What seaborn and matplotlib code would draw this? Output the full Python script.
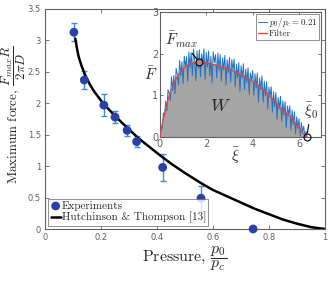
import matplotlib
matplotlib.use("Agg")
import matplotlib.pyplot as plt
import seaborn as sns
import numpy as np
import pandas as pd

# experiments (main panel)
p_exp = [0.103, 0.14, 0.21, 0.25, 0.293, 0.327, 0.42, 0.557, 0.743]
f_exp = [3.13, 2.37, 1.97, 1.78, 1.57, 1.39, 0.98, 0.49, 0.0]
f_err = [0.14, 0.15, 0.17, 0.09, 0.09, 0.09, 0.21, 0.20, 0.0]

# Hutchinson & Thompson curve
p_ht = [0.108, 0.114, 0.12, 0.13, 0.143, 0.16, 0.175, 0.207, 0.254, 0.296, 0.332,
        0.38, 0.42, 0.45, 0.5, 0.557, 0.6, 0.65, 0.7, 0.75, 0.8, 0.85, 0.9, 0.95, 1.0]
f_ht = [3.03, 2.87, 2.74, 2.6, 2.45, 2.3, 2.19, 2.0, 1.78, 1.6, 1.45,
        1.28, 1.14, 1.04, 0.89, 0.73, 0.62, 0.52, 0.42, 0.32, 0.235, 0.15, 0.085, 0.03, 0.0]

# inset: filtered force trace
xi_filt = [0.0, 0.1, 0.2, 0.3, 0.45, 0.6, 0.75, 0.9, 1.1, 1.32, 1.5, 1.7, 2.0, 2.33, 2.7,
           3.06, 3.4, 3.64, 4.0, 4.3, 4.6, 4.88, 5.2, 5.6, 5.8, 6.0, 6.2, 6.33]
f_filt = [0.0, 0.3, 0.55, 0.78, 1.09, 1.28, 1.45, 1.57, 1.69, 1.77, 1.79, 1.80, 1.78, 1.74, 1.68,
          1.62, 1.52, 1.46, 1.33, 1.22, 1.06, 0.9, 0.7, 0.5, 0.36, 0.22, 0.08, 0.0]

# inset: raw (noisy) trace, sampled every 0.05 in xi
f_raw = [0.00, 0.25, 0.20, 0.58, 0.50, 0.87, 0.63, 1.14, 1.05, 0.88,
         1.45, 1.12, 1.48, 1.04, 1.65, 1.50, 1.25, 1.84, 1.48, 1.81,
         1.28, 1.94, 1.68, 1.93, 1.33, 2.04, 1.66, 2.02, 1.48, 2.11,
         1.84, 1.35, 2.07, 1.65, 2.10, 1.45, 2.00, 1.75, 2.12, 1.39,
         2.03, 1.68, 2.07, 1.47, 1.94, 1.30, 2.05, 1.79, 1.98, 1.42,
         2.02, 1.61, 1.98, 1.34, 1.90, 1.62, 1.96, 1.25, 1.85, 1.54,
         1.91, 1.32, 1.86, 1.59, 1.88, 1.21, 1.75, 1.43, 1.79, 1.10,
         1.71, 1.42, 1.76, 1.14, 1.63, 1.31, 1.67, 1.03, 1.54, 1.35,
         1.60, 1.01, 1.52, 1.18, 1.54, 0.84, 1.42, 1.14, 1.47, 0.84,
         1.34, 0.99, 1.33, 0.68, 1.20, 0.96, 1.21, 0.60, 1.09, 0.73,
         1.07, 0.43, 0.95, 0.68, 0.98, 0.38, 0.87, 0.53, 0.85, 0.23,
         0.75, 0.53, 0.75, 0.16, 0.65, 0.30, 0.61, 0.08, 0.49, 0.21,
         0.44, 0.03, 0.35, 0.11, 0.26, 0.02, 0.14, 0.00]
xi_raw = np.arange(len(f_raw)) * 0.05

fmax_pt = (1.7, 1.80)
xi0_pt = (6.33, 0.0)

sns.set_theme(style="ticks")
plt.rcParams["mathtext.fontset"] = "cm"
plt.rcParams["font.family"] = ["DejaVu Sans"]
plt.rcParams["xtick.direction"] = "in"
plt.rcParams["ytick.direction"] = "in"

serif = "cmr10"
grey = "#606060"
fig = plt.figure(figsize=(3.29, 2.81), dpi=100)
ax = fig.add_axes([0.137, 0.185, 0.851, 0.783])

ax.errorbar(p_exp, f_exp, yerr=f_err, fmt="none", ecolor="#3c8fd6",
            elinewidth=1.0, capsize=2, capthick=1.0, zorder=2)
sns.lineplot(x=p_ht, y=f_ht, ax=ax, color="black", lw=1.8, sort=False,
             label="Hutchinson & Thompson [13]", zorder=3)
sns.scatterplot(x=p_exp, y=f_exp, ax=ax, color="#2a40a8", s=40, edgecolor="none",
                label="Experiments", zorder=4, clip_on=False)

ax.set_xlim(0, 1)
ax.set_ylim(0, 3.5)
ax.set_xticks([0, 0.2, 0.4, 0.6, 0.8, 1])
ax.set_xticklabels(["0", "0.2", "0.4", "0.6", "0.8", "1"])
ax.set_yticks([0, 0.5, 1, 1.5, 2, 2.5, 3, 3.5])
ax.set_yticklabels(["0", "0.5", "1", "1.5", "2", "2.5", "3", "3.5"])
ax.tick_params(labelsize=6, colors=grey, length=3, width=0.6, top=True, right=True, pad=3)
for s in ax.spines.values():
    s.set_color(grey)
    s.set_linewidth(0.8)
ax.set_xlabel(r"Pressure, $\dfrac{p_0}{p_c}$", fontsize=11.5, labelpad=1, family=serif)
ax.set_ylabel(r"Maximum force, $\dfrac{F_{max}R}{2\pi D}$", fontsize=9.5, labelpad=0, family=serif)
ax.yaxis.set_label_coords(-0.062, 0.52)

h, l = ax.get_legend_handles_labels()
leg = ax.legend(h[::-1], l[::-1], loc="lower left", frameon=True, fancybox=False,
                prop={"family": serif, "size": 8},
                borderpad=0.2, labelspacing=0.1, handlelength=0.9, handletextpad=0.1,
                borderaxespad=0.3, edgecolor=grey)
leg.get_frame().set_linewidth(0.6)

# inset
ins = fig.add_axes([0.486, 0.512, 0.49, 0.445])
ins.fill_between(xi_filt, f_filt, 0, color="#a5a5a5", lw=0, zorder=1)
raw = pd.DataFrame({"xi": xi_raw, "F": f_raw})
sns.lineplot(data=raw, x="xi", y="F", ax=ins, color="#1f72c8", lw=0.7,
             label=r"$p_0/p_c = 0.21$", zorder=2)
sns.lineplot(x=xi_filt, y=f_filt, ax=ins, color="#e0443a", lw=1.0,
             label="Filter", zorder=3)
ins.plot(*fmax_pt, "o", ms=5, mfc="#c08080", mec="black", mew=0.8, zorder=5)
ins.plot(*xi0_pt, "o", ms=5, mfc="none", mec="black", mew=0.8, zorder=5, clip_on=False)
ins.annotate(r"$\bar{F}_{max}$", xy=fmax_pt, xytext=(0.2, 2.2), fontsize=11,
             arrowprops=dict(arrowstyle="-", color="black", lw=0.8, shrinkA=0, shrinkB=3))
ins.annotate(r"$\bar{\xi}_0$", xy=xi0_pt, xytext=(6.2, 0.5), fontsize=11,
             arrowprops=dict(arrowstyle="-", color="black", lw=0.8, shrinkA=0, shrinkB=3))
ins.text(2.6, 0.75, r"$W$", fontsize=13, ha="center", va="center")

ins.set_xlim(0, 6.95)
ins.set_ylim(0, 3)
ins.set_xticks([0, 2, 4, 6])
ins.set_yticks([0, 1, 2, 3])
ins.tick_params(labelsize=7, colors=grey, length=2.5, width=0.6, top=True, right=True, pad=1)
for s in ins.spines.values():
    s.set_color(grey)
    s.set_linewidth(0.8)
ins.set_xlabel(r"$\bar{\xi}$", fontsize=11)
ins.set_ylabel(r"$\bar{F}$", fontsize=11, rotation=0, va="center", ha="center")
ins.xaxis.set_label_coords(0.47, -0.07)
ins.yaxis.set_label_coords(-0.06, 0.5)
il = ins.legend(loc="upper right", frameon=True, fancybox=False,
                prop={"family": serif, "size": 6.5},
                borderpad=0.2, labelspacing=0.1, handlelength=1.0, handletextpad=0.2,
                borderaxespad=0.2, edgecolor=grey)
il.get_frame().set_linewidth(0.6)

fig.savefig("out.png", dpi=100)
